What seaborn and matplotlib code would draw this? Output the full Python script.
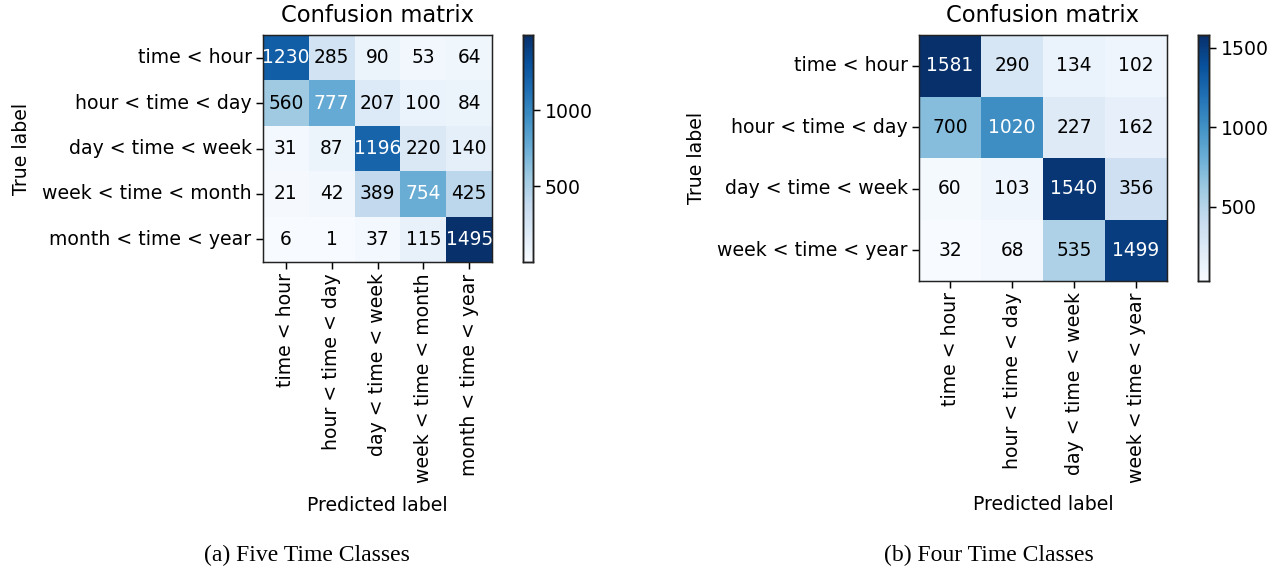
import numpy as np
import pandas as pd
import matplotlib
matplotlib.use("Agg")
import matplotlib.pyplot as plt
import seaborn as sns

# Class labels
classes_five = ["time < hour", "hour < time < day", "day < time < week",
                "week < time < month", "month < time < year"]
classes_four = ["time < hour", "hour < time < day", "day < time < week",
                "week < time < year"]

# Confusion matrix counts (rows: true label, columns: predicted label)
counts_five = [
    [1230, 285, 90, 53, 64],
    [560, 777, 207, 100, 84],
    [31, 87, 1196, 220, 140],
    [21, 42, 389, 754, 425],
    [6, 1, 37, 115, 1495],
]
counts_four = [
    [1581, 290, 134, 102],
    [700, 1020, 227, 162],
    [60, 103, 1540, 356],
    [32, 68, 535, 1499],
]

cbar_ticks_five = [500, 1000]
cbar_ticks_four = [500, 1000, 1500]

captions = ["(a) Five Time Classes", "(b) Four Time Classes"]

plt.rcParams.update({
    "font.family": "DejaVu Sans",
    "font.size": 13.6,
    "axes.titlesize": 16.3,
    "axes.labelsize": 13.6,
    "xtick.labelsize": 13.6,
    "ytick.labelsize": 13.6,
    "xtick.major.size": 4.7,
    "ytick.major.size": 4.7,
    "xtick.major.width": 1.07,
    "ytick.major.width": 1.07,
})

W, H = 1281, 571
fig = plt.figure(figsize=(W / 100, H / 100), dpi=100)


def box(x0, y0, x1, y1):
    return [x0 / W, 1 - y1 / H, (x1 - x0) / W, (y1 - y0) / H]


def draw(ax, cax, counts, labels, ticks):
    df = pd.DataFrame(counts, index=labels, columns=labels)
    sns.heatmap(df, ax=ax, cbar_ax=cax, cmap="Blues", annot=True, fmt="d",
                annot_kws={"size": 13.4}, square=False, linewidths=0)
    vmax = np.max(counts)
    flat = np.asarray(counts).ravel()
    for txt, v in zip(ax.texts, flat):
        txt.set_color("white" if v > vmax / 2 else "black")
    for s in ax.spines.values():
        s.set_visible(True)
        s.set_color("#222222")
        s.set_linewidth(1.07)
    ax.set_title("Confusion matrix", pad=9)
    ax.set_ylabel("True label", labelpad=8)
    ax.set_xlabel("Predicted label", labelpad=9)
    ax.set_xticklabels(labels, rotation=90)
    ax.set_yticklabels(labels, rotation=0)
    ax.tick_params(length=4.7, width=1.07)
    cax.set_yticks(ticks)
    cax.tick_params(length=4.7, width=1.07, labelsize=13.6)
    for s in cax.spines.values():
        s.set_visible(True)
        s.set_color("#222222")
        s.set_linewidth(1.07)


ax1 = fig.add_axes(box(263, 35, 492, 262))
cax1 = fig.add_axes(box(523, 35, 533, 262))
draw(ax1, cax1, counts_five, classes_five, cbar_ticks_five)

ax2 = fig.add_axes(box(919, 35, 1167, 281))
cax2 = fig.add_axes(box(1198, 35, 1209, 281))
draw(ax2, cax2, counts_four, classes_four, cbar_ticks_four)

fig.text(307 / W, 1 - 555 / H, captions[0], ha="center", va="center",
         family="Liberation Serif", fontsize=17)
fig.text(989 / W, 1 - 555 / H, captions[1], ha="center", va="center",
         family="Liberation Serif", fontsize=17)

fig.savefig("out.png", dpi=100, facecolor="white")
